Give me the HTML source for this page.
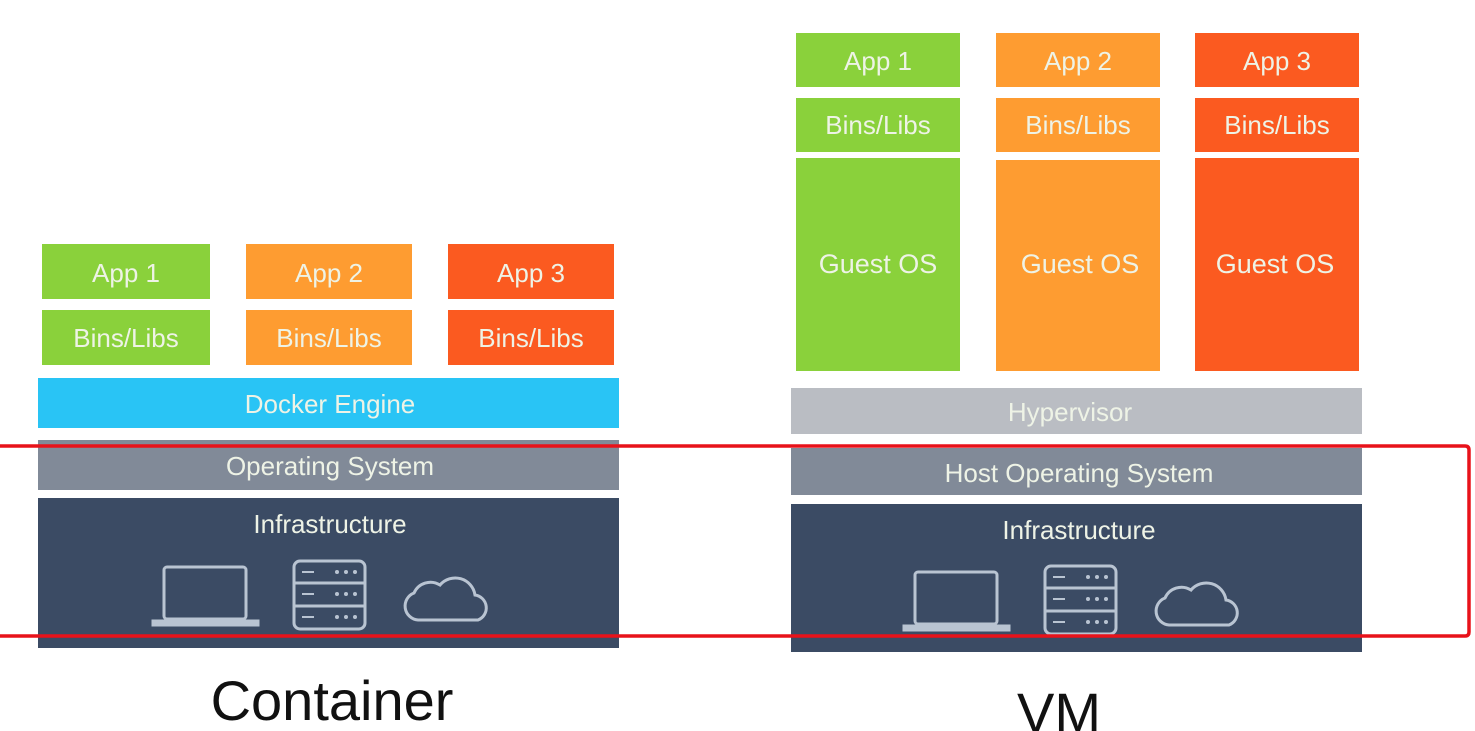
<!DOCTYPE html>
<html><head><meta charset="utf-8"><style>
html,body{margin:0;padding:0;background:#fff;}
svg{display:block}
text{font-family:"Liberation Sans",sans-serif;fill:#eef3e6;text-anchor:middle}
</style></head><body>
<svg width="1475" height="731" viewBox="0 0 1475 731" xmlns="http://www.w3.org/2000/svg">
<defs>
<g id="icons" fill="none" stroke="#b9c4d2" stroke-width="3">
  <rect x="164" y="567" width="82" height="52" rx="3"/>
  <path d="M153 621 H258 V625 H153 Z" fill="#b9c4d2"/>
  <rect x="294" y="561" width="71" height="68" rx="6"/>
  <line x1="294" y1="583" x2="365" y2="583"/>
  <line x1="294" y1="606" x2="365" y2="606"/>
  <g stroke-width="2"><line x1="302" y1="572" x2="314" y2="572"/><line x1="302" y1="594" x2="314" y2="594"/><line x1="302" y1="617" x2="314" y2="617"/></g>
  <g fill="#b9c4d2" stroke="none">
    <circle cx="337" cy="572" r="2"/><circle cx="346" cy="572" r="2"/><circle cx="355" cy="572" r="2"/>
    <circle cx="337" cy="594" r="2"/><circle cx="346" cy="594" r="2"/><circle cx="355" cy="594" r="2"/>
    <circle cx="337" cy="617" r="2"/><circle cx="346" cy="617" r="2"/><circle cx="355" cy="617" r="2"/>
  </g>
  <path d="M418 620 A14 14 0 0 1 414 593 A18 18 0 0 1 440 585 A20 20 0 0 1 475 595 A13 13 0 0 1 478 620 Z"/>
</g>
</defs>

<!-- Container side -->
<rect x="42" y="244" width="168" height="55" fill="#8ad13b"/>
<rect x="246" y="244" width="166" height="55" fill="#fe9c31"/>
<rect x="448" y="244" width="166" height="55" fill="#fb5a20"/>
<text x="126" y="282" font-size="26">App 1</text>
<text x="329" y="282" font-size="26">App 2</text>
<text x="531" y="282" font-size="26">App 3</text>
<rect x="42" y="310" width="168" height="55" fill="#8ad13b"/>
<rect x="246" y="310" width="166" height="55" fill="#fe9c31"/>
<rect x="448" y="310" width="166" height="55" fill="#fb5a20"/>
<text x="126" y="347" font-size="26">Bins/Libs</text>
<text x="329" y="347" font-size="26">Bins/Libs</text>
<text x="531" y="347" font-size="26">Bins/Libs</text>
<rect x="38" y="378" width="581" height="50" fill="#29c4f5"/>
<text x="330" y="413" font-size="26">Docker Engine</text>
<rect x="38" y="440" width="581" height="50" fill="#818a98"/>
<text x="330" y="475" font-size="26">Operating System</text>
<rect x="38" y="498" width="581" height="150" fill="#3b4b64"/>
<text x="330" y="533" font-size="26">Infrastructure</text>
<use href="#icons"/>
<text x="332" y="720" font-size="56" style="fill:#111">Container</text>

<!-- VM side -->
<rect x="796" y="33" width="164" height="54" fill="#8ad13b"/>
<rect x="996" y="33" width="164" height="54" fill="#fe9c31"/>
<rect x="1195" y="33" width="164" height="54" fill="#fb5a20"/>
<text x="878" y="70" font-size="26">App 1</text>
<text x="1078" y="70" font-size="26">App 2</text>
<text x="1277" y="70" font-size="26">App 3</text>
<rect x="796" y="98" width="164" height="54" fill="#8ad13b"/>
<rect x="996" y="98" width="164" height="54" fill="#fe9c31"/>
<rect x="1195" y="98" width="164" height="54" fill="#fb5a20"/>
<text x="878" y="134" font-size="26">Bins/Libs</text>
<text x="1078" y="134" font-size="26">Bins/Libs</text>
<text x="1277" y="134" font-size="26">Bins/Libs</text>
<rect x="796" y="158" width="164" height="213" fill="#8ad13b"/>
<rect x="996" y="160" width="164" height="211" fill="#fe9c31"/>
<rect x="1195" y="158" width="164" height="213" fill="#fb5a20"/>
<text x="878" y="273" font-size="27">Guest OS</text>
<text x="1080" y="273" font-size="27">Guest OS</text>
<text x="1275" y="273" font-size="27">Guest OS</text>
<rect x="791" y="388" width="571" height="46" fill="#babdc3"/>
<text x="1070" y="421" font-size="26">Hypervisor</text>
<rect x="791" y="448" width="571" height="47" fill="#818a98"/>
<text x="1079" y="482" font-size="26">Host Operating System</text>
<rect x="791" y="504" width="571" height="148" fill="#3b4b64"/>
<text x="1079" y="539" font-size="26">Infrastructure</text>
<use href="#icons" transform="translate(751,5)"/>
<text x="1059" y="732" font-size="56" style="fill:#111">VM</text>

<!-- red highlight -->
<path d="M0 446 H1465 Q1469 446 1469 450 V632 Q1469 636 1465 636 H0" fill="none" stroke="#e8121a" stroke-width="3.5"/>
</svg>
</body></html>
